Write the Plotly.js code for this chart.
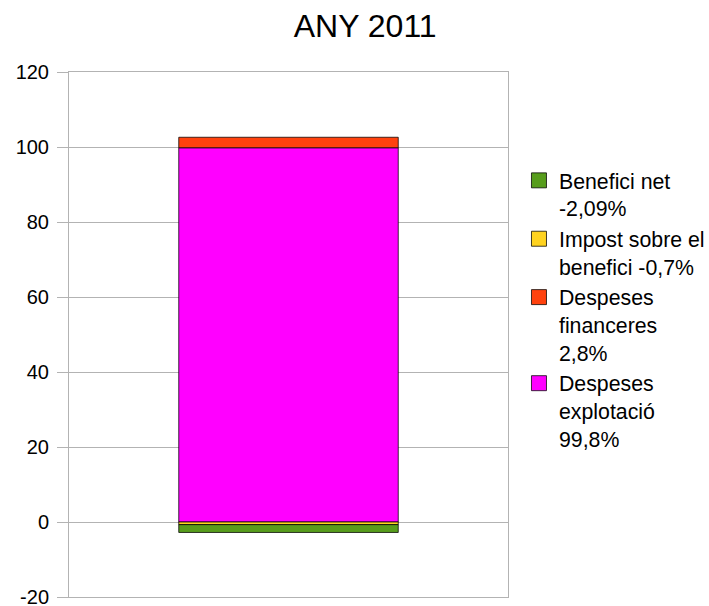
<!DOCTYPE html>
<html>
<head>
<meta charset="utf-8">
<script src="https://cdn.plot.ly/plotly-3.0.1.min.js"></script>
<style>
  html, body { margin: 0; padding: 0; background: #ffffff; }
  #chart { width: 709px; height: 606px; }
</style>
</head>
<body>
<div id="chart"></div>
<script>
// Cost structure for 2011, as percentages of revenue
const category = ["ANY 2011"];
const seriesNames = [
  "Despeses<br>explotació<br>99,8%",
  "Despeses<br>financeres<br>2,8%",
  "Impost sobre el<br>benefici -0,7%",
  "Benefici net<br>-2,09%"
];
const seriesValues = [99.8, 2.8, -0.7, -2.09];
const seriesColors = ["#ff00ff", "#ff420e", "#ffd320", "#579d1c"];
const yTicks = [-20, 0, 20, 40, 60, 80, 100, 120];

const edge = "rgba(0,0,0,0.75)";

// Stacked bars: positives grow up from 0, negatives hang below it
const bars = seriesNames.map((name, i) => ({
  type: "bar",
  name: name,
  x: category,
  y: [seriesValues[i]],
  marker: { color: seriesColors[i], line: { color: edge, width: 1 } },
  showlegend: false,
  hoverinfo: "name+y"
}));

// Legend keys with larger square swatches, listed from the bottom segment up
const keys = seriesNames.map((name, i) => ({
  type: "scatter",
  mode: "markers",
  name: name,
  x: [null],
  y: [null],
  marker: { symbol: "square", size: 15, color: seriesColors[i], line: { color: edge, width: 1 } },
  showlegend: true,
  hoverinfo: "skip"
})).reverse();

const gridColor = "#b3b3b3";

const layout = {
  width: 709,
  height: 606,
  paper_bgcolor: "#ffffff",
  plot_bgcolor: "#ffffff",
  font: { family: "Liberation Sans, Arial, sans-serif", color: "#000000", size: 20 },
  margin: { l: 69, r: 201, t: 72, b: 9, pad: 0, autoexpand: false },
  barmode: "relative",
  bargap: 0.5,
  title: {
    text: "ANY 2011",
    font: { size: 32, color: "#000000" },
    xref: "container", x: 0.515, xanchor: "center",
    yref: "container", y: 0.958, yanchor: "middle"
  },
  xaxis: {
    showticklabels: false,
    ticks: "",
    showgrid: false,
    zeroline: false,
    showline: true,
    linecolor: gridColor,
    linewidth: 1,
    mirror: true,
    fixedrange: true
  },
  yaxis: {
    range: [-20, 120],
    tickvals: yTicks,
    ticktext: yTicks.map(String),
    ticks: "outside",
    ticklen: 11,
    tickcolor: gridColor,
    tickwidth: 1,
    tickfont: { size: 20 },
    ticklabelstandoff: 4,
    ticklabeloverflow: "allow",
    showgrid: true,
    gridcolor: gridColor,
    gridwidth: 1,
    zeroline: false,
    showline: true,
    linecolor: gridColor,
    linewidth: 1,
    mirror: true,
    fixedrange: true
  },
  showlegend: true,
  legend: {
    traceorder: "normal",
    valign: "top",
    font: { size: 21.3, color: "#000000" },
    xref: "paper", x: 1.025, xanchor: "left",
    yref: "container", y: 1 - 160 / 606, yanchor: "top",
    bgcolor: "rgba(0,0,0,0)",
    borderwidth: 0
  }
};

Plotly.newPlot("chart", bars.concat(keys), layout, { displayModeBar: false, staticPlot: true });
</script>
</body>
</html>
